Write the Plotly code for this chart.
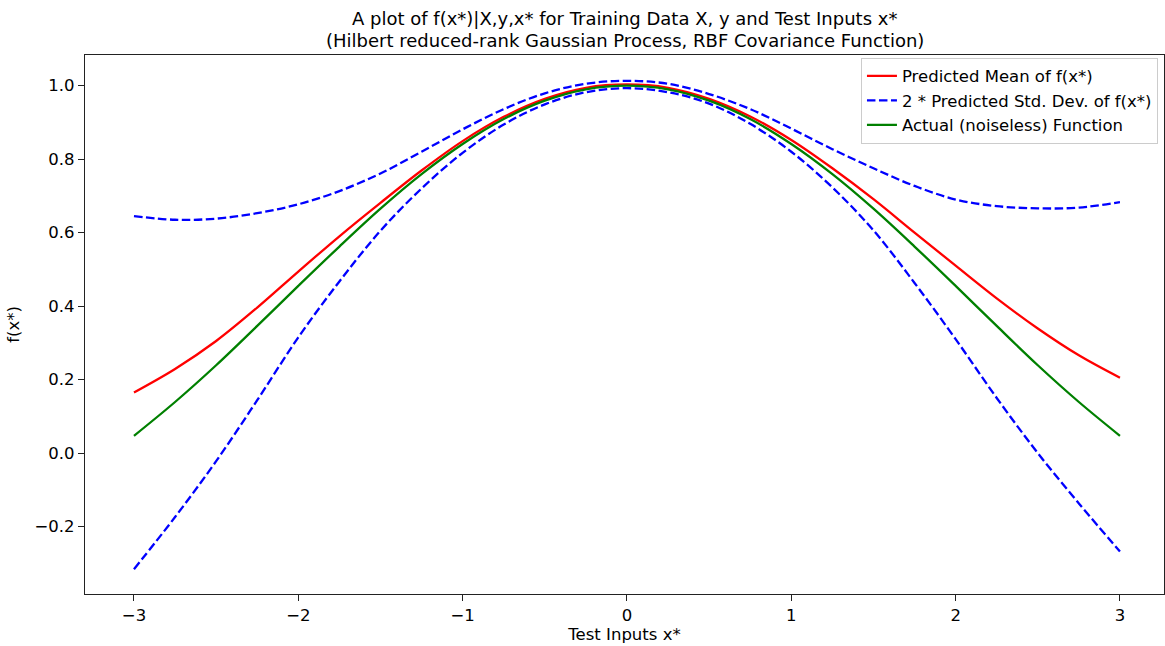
import plotly.graph_objects as go

# Test inputs x*
x_test = [-3.0, -2.75, -2.5, -2.25, -2.0, -1.75, -1.5, -1.25, -1.0, -0.75, -0.5, -0.25,
          0.0, 0.25, 0.5, 0.75, 1.0, 1.25, 1.5, 1.75, 2.0, 2.25, 2.5, 2.75, 3.0]

# Predicted mean of f(x*)
pred_mean = [0.165, 0.229, 0.305, 0.396, 0.494, 0.590, 0.681, 0.769, 0.849, 0.915, 0.964, 0.994,
             1.003, 0.994, 0.964, 0.916, 0.852, 0.775, 0.691, 0.600, 0.510, 0.421, 0.339, 0.266, 0.205]

# Mean + 2 std and mean - 2 std
upper_band = [0.645, 0.635, 0.638, 0.653, 0.677, 0.713, 0.761, 0.820, 0.881, 0.936, 0.979, 1.005,
              1.013, 1.005, 0.977, 0.936, 0.883, 0.827, 0.775, 0.727, 0.690, 0.672, 0.666, 0.668, 0.683]
lower_band = [-0.316, -0.174, -0.022, 0.144, 0.315, 0.467, 0.605, 0.720, 0.817, 0.894, 0.949, 0.982,
              0.993, 0.982, 0.951, 0.896, 0.820, 0.723, 0.606, 0.463, 0.310, 0.150, 0.000, -0.137, -0.268]

# Actual (noiseless) function
actual_f = [0.047, 0.139, 0.239, 0.346, 0.455, 0.562, 0.665, 0.759, 0.841, 0.909, 0.959, 0.990,
            1.000, 0.990, 0.959, 0.909, 0.841, 0.759, 0.665, 0.562, 0.455, 0.346, 0.239, 0.139, 0.047]

x_ticks = [-3, -2, -1, 0, 1, 2, 3]
y_ticks = [-0.2, 0.0, 0.2, 0.4, 0.6, 0.8, 1.0]

title_lines = ["A plot of f(x*)|X,y,x* for Training Data X, y and Test Inputs x*",
               "(Hilbert reduced-rank Gaussian Process, RBF Covariance Function)"]

FONT = "DejaVu Sans"
DASH = "8.5px,3.5px"
LW = 2.3
W, H = 1165, 646
M_TOP, M_BOTTOM = 55, 52

fig = go.Figure()
fig.add_trace(go.Scatter(
    x=x_test, y=pred_mean, mode="lines", name="Predicted Mean of f(x*)",
    line=dict(color="#ff0000", width=LW, shape="spline"), legendgroup="mean"))
fig.add_trace(go.Scatter(
    x=x_test, y=upper_band, mode="lines", name="2 * Predicted Std. Dev. of f(x*)",
    line=dict(color="#0000ff", width=LW, dash=DASH, shape="spline"), legendgroup="std"))
fig.add_trace(go.Scatter(
    x=x_test, y=lower_band, mode="lines", name="2 * Predicted Std. Dev. of f(x*)",
    line=dict(color="#0000ff", width=LW, dash=DASH, shape="spline"), legendgroup="std",
    showlegend=False))
fig.add_trace(go.Scatter(
    x=x_test, y=actual_f, mode="lines", name="Actual (noiseless) Function",
    line=dict(color="#008000", width=LW, shape="spline"), legendgroup="actual"))

axis_common = dict(
    showline=True, mirror=True, linecolor="#222222", linewidth=1.3,
    ticks="outside", ticklen=6, tickwidth=1.3, tickcolor="#222222",
    showgrid=False, zeroline=False,
    tickfont=dict(family=FONT, size=16.5, color="black"),
)

# Two-line title above the axes, one annotation per line
plot_h = H - M_TOP - M_BOTTOM
for i, line in enumerate(title_lines):
    px_from_top = 19 + 21.5 * i
    fig.add_annotation(
        text=line, showarrow=False,
        x=0.5, xref="paper", xanchor="center",
        y=(H - M_BOTTOM - px_from_top) / plot_h, yref="paper", yanchor="middle",
        font=dict(family=FONT, size=18, color="black"),
    )

fig.update_layout(
    width=W, height=H,
    margin=dict(l=85, r=1, t=M_TOP, b=M_BOTTOM),
    paper_bgcolor="white", plot_bgcolor="white",
    font=dict(family=FONT, size=16.5, color="black"),
    xaxis=dict(
        range=[-3.298, 3.268], tickvals=x_ticks, tickformat="d",
        title=dict(text="Test Inputs x*", font=dict(family=FONT, size=16.5), standoff=4),
        **axis_common,
    ),
    yaxis=dict(
        range=[-0.3835, 1.0833], tickvals=y_ticks, tickformat=".1f",
        title=dict(text="f(x*)", font=dict(family=FONT, size=16.5), standoff=10),
        **axis_common,
    ),
    legend=dict(
        x=0.9944, y=0.995, xanchor="right", yanchor="top",
        bgcolor="rgba(255,255,255,0.8)", bordercolor="#cccccc", borderwidth=1,
        font=dict(family=FONT, size=16.5, color="black"),
        tracegroupgap=0, traceorder="grouped", itemwidth=30,
    ),
    showlegend=True,
)

fig.write_html("out.html")
